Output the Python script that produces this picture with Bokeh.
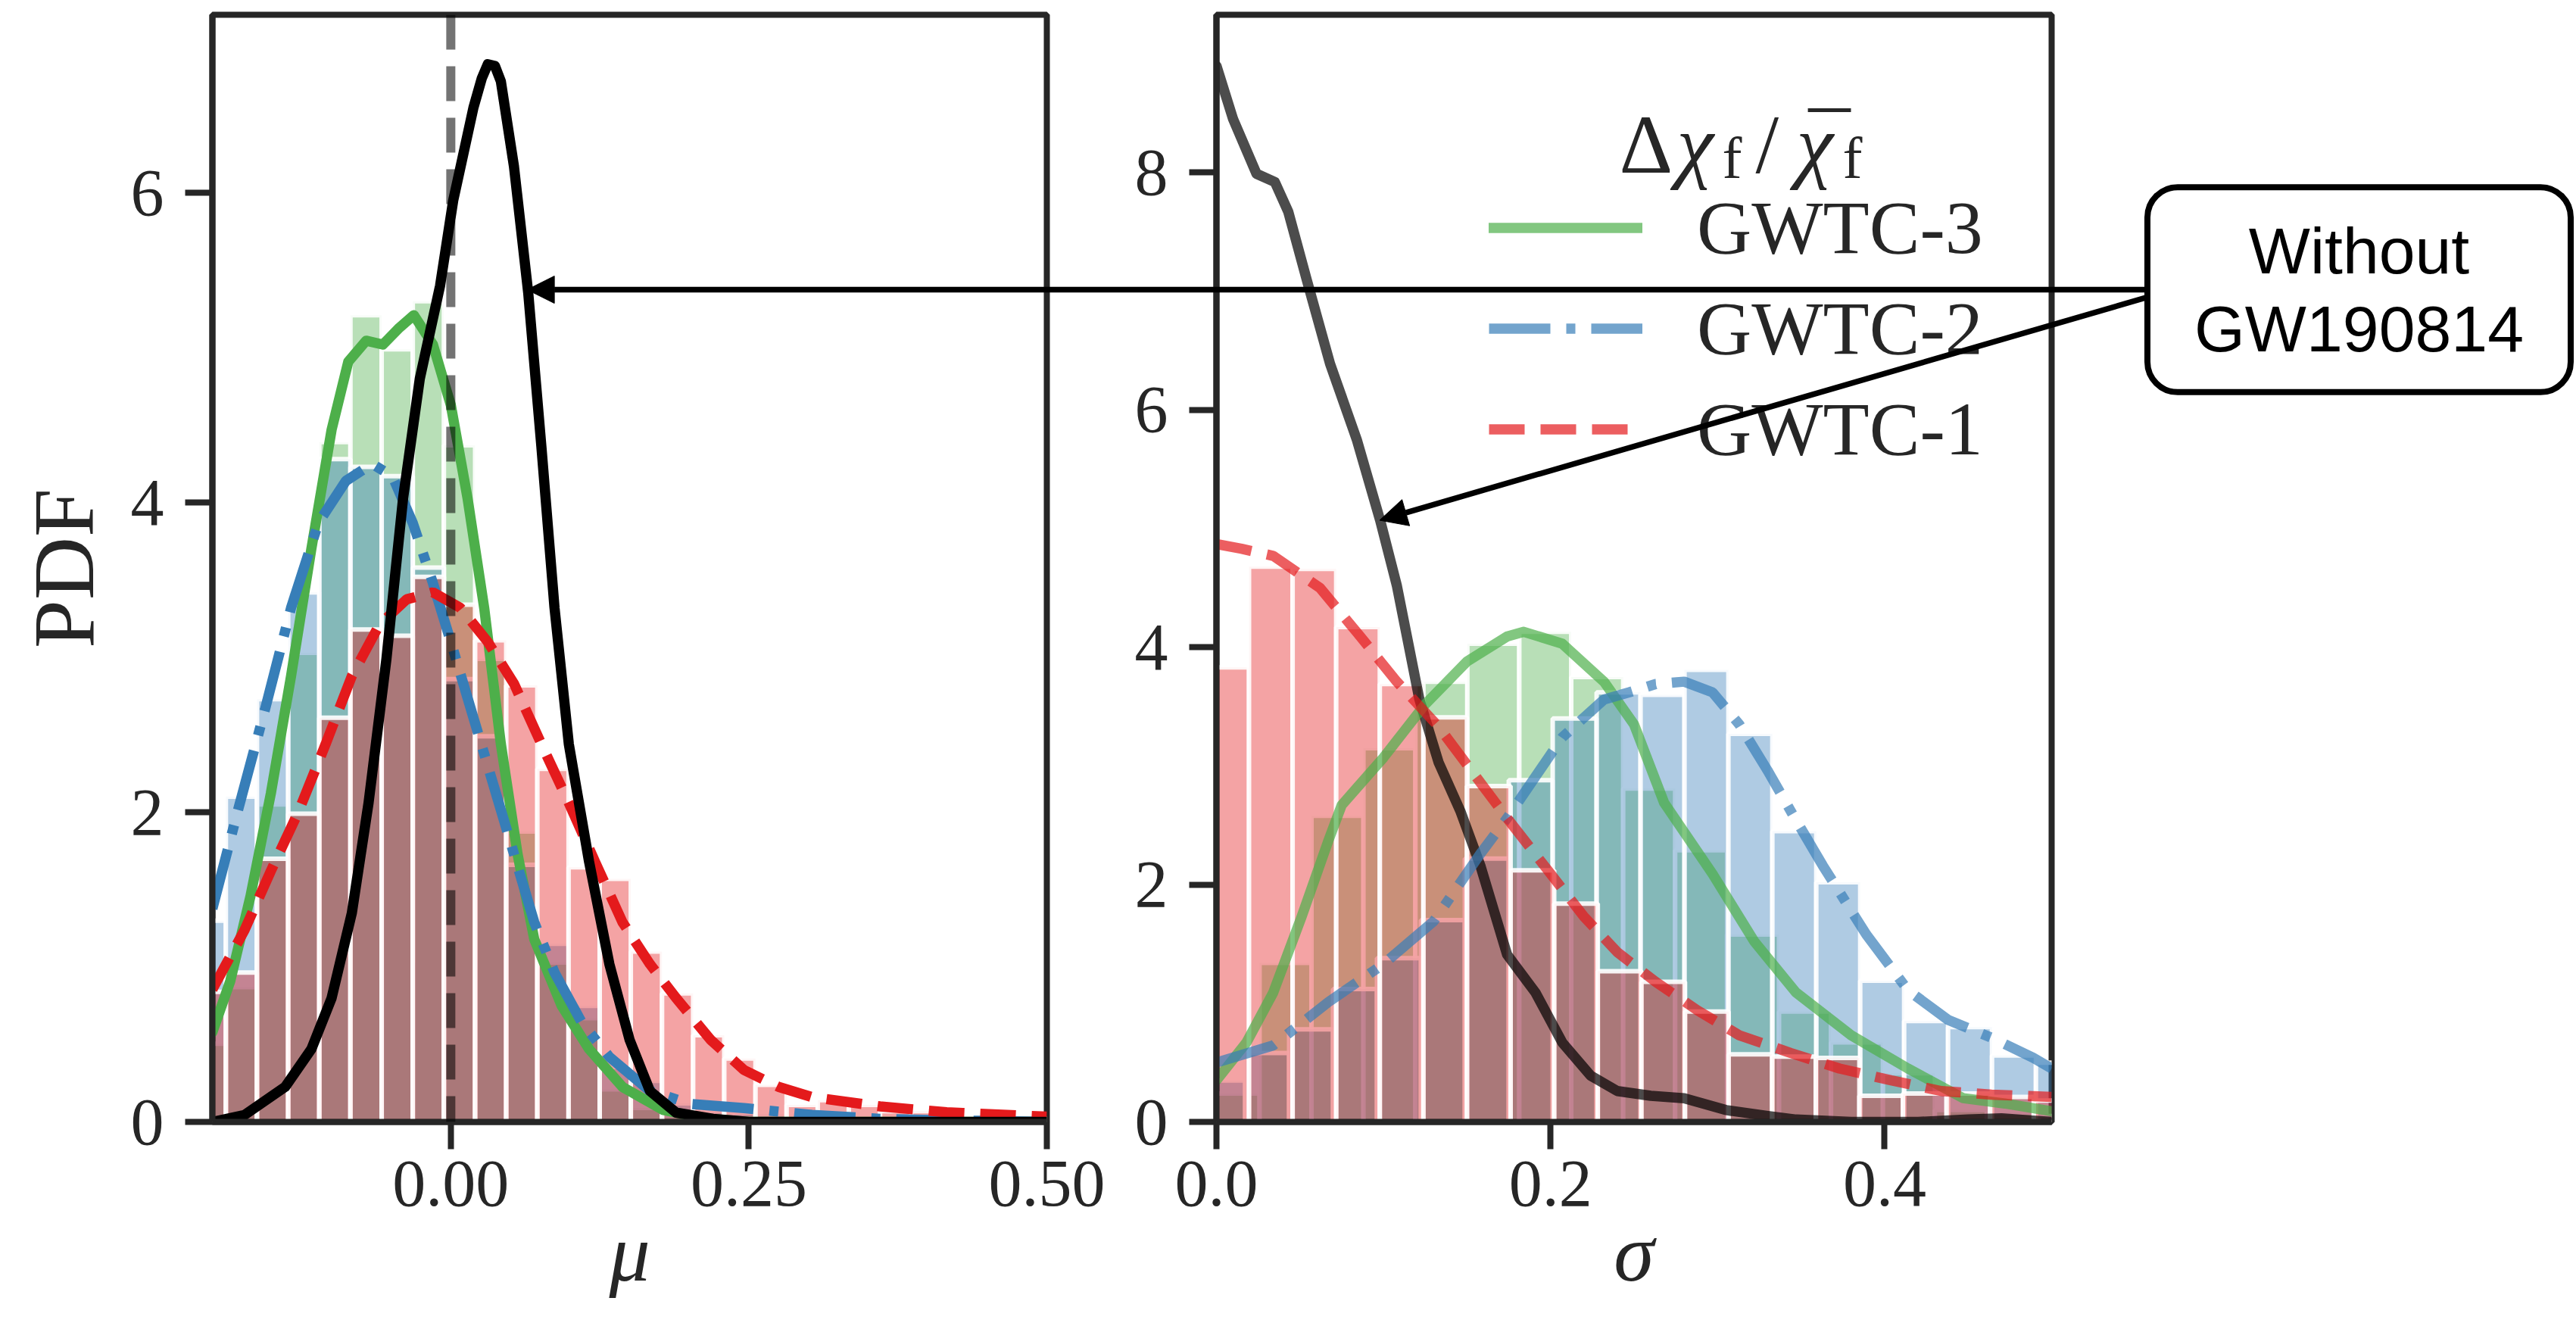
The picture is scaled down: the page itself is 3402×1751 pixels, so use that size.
from bokeh.plotting import figure
from bokeh.layouts import row, column
from bokeh.models import (Range1d, FixedTicker, NumeralTickFormatter, Span, Label,
                          Arrow, NormalHead, Legend, LegendItem)
from bokeh.embed import file_html
from bokeh.resources import INLINE

# ====================== DATA ======================
series_labels = ["GWTC-3", "GWTC-2", "GWTC-1"]
mu_ticks = [0.0, 0.25, 0.5]
sigma_ticks = [0.0, 0.2, 0.4]
pdf_ticks_left = [0, 2, 4, 6]
pdf_ticks_right = [0, 2, 4, 6, 8]

# ---- left panel: mu ----
mu_bin_edges = [-0.2148, -0.1887, -0.1626, -0.1364, -0.1103, -0.0842, -0.0580, -0.0319,
                -0.0058, 0.0204, 0.0465, 0.0726, 0.0988, 0.1249, 0.1510, 0.1772, 0.2033,
                0.2294, 0.2556, 0.2817, 0.3078, 0.3339, 0.3601, 0.3862, 0.4123, 0.4385,
                0.4646, 0.4907, 0.5169]
mu_hist_gwtc3 = [0.505, 0.87, 2.05, 3.03, 4.39, 5.21, 4.99, 5.30, 4.37, 2.99, 1.875, 1.03, 0.67,
                 0.21, 0.09, 0.04, 0.02, 0.01, 0.0, 0.0, 0.0, 0.0, 0.0, 0.0, 0.0, 0.0, 0.0, 0.0]
mu_hist_gwtc2 = [1.30, 2.10, 2.73, 3.42, 4.28, 4.23, 4.17, 3.58, 2.86, 2.49, 1.66, 1.15, 0.75,
                 0.355, 0.265, 0.12, 0.07, 0.06, 0.05, 0.03, 0.03, 0.02, 0.02, 0.01, 0.01, 0.0, 0.0, 0.0]
mu_hist_gwtc1 = [0.84, 0.965, 1.70, 1.99, 2.61, 3.18, 3.14, 3.52, 3.34, 3.11, 2.82, 2.28, 1.645,
                 1.57, 1.10, 0.83, 0.56, 0.41, 0.24, 0.11, 0.14, 0.11, 0.07, 0.07, 0.04, 0.02, 0.03, 0.02]

mu_kde3_x = [-0.2, -0.185, -0.168, -0.151, -0.134, -0.117, -0.100, -0.086, -0.071, -0.057, -0.043,
             -0.031, -0.015, 0.0, 0.014, 0.028, 0.042, 0.056, 0.070, 0.093, 0.116, 0.144, 0.178,
             0.212, 0.25, 0.5]
mu_kde3_y = [0.58, 0.91, 1.46, 2.12, 2.88, 3.70, 4.47, 4.91, 5.045, 5.02, 5.13, 5.21, 5.02, 4.63,
             4.03, 3.32, 2.44, 1.73, 1.18, 0.75, 0.47, 0.226, 0.078, 0.023, 0.0, 0.0]
mu_kde2_x = [-0.2, -0.179, -0.156, -0.134, -0.111, -0.088, -0.066, -0.049, -0.032, -0.015, 0.002,
             0.019, 0.036, 0.053, 0.070, 0.087, 0.110, 0.133, 0.167, 0.201, 0.246, 0.303, 0.36,
             0.42, 0.5]
mu_kde2_y = [1.376, 2.0, 2.66, 3.32, 3.87, 4.14, 4.25, 4.17, 3.87, 3.48, 3.05, 2.61, 2.17, 1.73,
             1.29, 0.965, 0.64, 0.42, 0.20, 0.116, 0.089, 0.045, 0.02, 0.01, 0.0]
mu_kde1_x = [-0.2, -0.173, -0.151, -0.128, -0.105, -0.083, -0.060, -0.037, -0.015, 0.008, 0.031,
             0.053, 0.076, 0.099, 0.121, 0.144, 0.167, 0.189, 0.218, 0.246, 0.275, 0.303, 0.36,
             0.416, 0.5]
mu_kde1_y = [0.856, 1.24, 1.62, 2.0, 2.44, 2.88, 3.21, 3.375, 3.42, 3.32, 3.10, 2.83, 2.44, 2.06,
             1.68, 1.29, 1.02, 0.80, 0.53, 0.335, 0.226, 0.16, 0.10, 0.062, 0.034]
mu_kde_wo_x = [-0.2, -0.173, -0.139, -0.117, -0.100, -0.083, -0.069, -0.054, -0.040, -0.026,
               -0.009, 0.002, 0.019, 0.026, 0.031, 0.037, 0.042, 0.053, 0.065, 0.076, 0.087,
               0.099, 0.116, 0.133, 0.150, 0.167, 0.189, 0.22, 0.25, 0.5]
mu_kde_wo_y = [0.0, 0.045, 0.226, 0.47, 0.80, 1.35, 2.06, 2.99, 4.03, 4.80, 5.40, 5.95, 6.55,
               6.74, 6.83, 6.82, 6.72, 6.17, 5.35, 4.36, 3.32, 2.44, 1.68, 1.02, 0.53, 0.20,
               0.06, 0.02, 0.0, 0.0]
mu_reference = 0.0

# ---- right panel: sigma ----
sig_edges_gwtc3 = [-0.0053, 0.0258, 0.0569, 0.0880, 0.1191, 0.1502, 0.1813, 0.2124, 0.2435,
                   0.2746, 0.3057, 0.3368, 0.3679, 0.3990, 0.4301, 0.4612, 0.4923, 0.5234]
sig_hist_gwtc3 = [0.24, 1.34, 2.58, 3.15, 3.71, 4.03, 4.13, 3.75, 2.81, 2.29, 1.58, 0.93, 0.67,
                  0.41, 0.10, 0.08, 0.05]
sig_edges_gwtc2 = [-0.0091, 0.0172, 0.0435, 0.0698, 0.0961, 0.1224, 0.1487, 0.1750, 0.2013,
                   0.2276, 0.2539, 0.2802, 0.3065, 0.3328, 0.3591, 0.3854, 0.4117, 0.4380,
                   0.4643, 0.4906, 0.5169]
sig_hist_gwtc2 = [0.35, 0.58, 0.78, 1.12, 1.38, 1.70, 2.22, 2.88, 3.40, 3.62, 3.60, 3.81, 3.27,
                  2.45, 2.02, 1.19, 0.85, 0.80, 0.56, 0.50]
sig_edges_gwtc1 = [-0.0066, 0.0195, 0.0456, 0.0717, 0.0978, 0.1239, 0.1500, 0.1761, 0.2022,
                   0.2283, 0.2544, 0.2805, 0.3066, 0.3327, 0.3588, 0.3849, 0.4110, 0.4371,
                   0.4632, 0.4893, 0.5154]
sig_hist_gwtc1 = [3.83, 4.68, 4.66, 4.17, 3.69, 3.41, 2.83, 2.12, 1.84, 1.27, 1.18, 0.93, 0.57,
                  0.55, 0.54, 0.22, 0.24, 0.24, 0.21, 0.18]

sig_kde3_x = [0.0, 0.018, 0.034, 0.051, 0.067, 0.075, 0.100, 0.125, 0.150, 0.174, 0.184, 0.207,
              0.232, 0.250, 0.268, 0.297, 0.322, 0.347, 0.380, 0.414, 0.447, 0.472, 0.5]
sig_kde3_y = [0.35, 0.67, 1.09, 1.73, 2.37, 2.67, 3.07, 3.52, 3.88, 4.09, 4.13, 4.03, 3.71, 3.35,
              2.69, 2.09, 1.52, 1.09, 0.73, 0.45, 0.20, 0.155, 0.09]
sig_kde2_x = [0.0, 0.034, 0.067, 0.100, 0.130, 0.158, 0.174, 0.207, 0.232, 0.247, 0.263, 0.280,
              0.297, 0.313, 0.330, 0.345, 0.363, 0.389, 0.414, 0.438, 0.464, 0.489, 0.5]
sig_kde2_y = [0.50, 0.645, 1.01, 1.33, 1.69, 2.26, 2.56, 3.24, 3.56, 3.62, 3.69, 3.71, 3.62, 3.35,
              2.96, 2.59, 2.16, 1.58, 1.11, 0.86, 0.71, 0.54, 0.45]
sig_kde1_x = [0.0, 0.015, 0.034, 0.062, 0.085, 0.108, 0.133, 0.158, 0.174, 0.199, 0.220, 0.240,
              0.263, 0.288, 0.313, 0.344, 0.373, 0.404, 0.434, 0.464, 0.5]
sig_kde1_y = [4.87, 4.83, 4.77, 4.50, 4.11, 3.71, 3.33, 2.86, 2.56, 2.11, 1.73, 1.43, 1.18, 0.94,
              0.73, 0.58, 0.45, 0.35, 0.26, 0.23, 0.21]
sig_kde_wo_x = [0.0, 0.01, 0.024, 0.035, 0.043, 0.054, 0.068, 0.084, 0.098, 0.108, 0.1215, 0.133,
                0.146, 0.158, 0.174, 0.191, 0.207, 0.224, 0.240, 0.26, 0.28, 0.305, 0.33, 0.347,
                0.38, 0.42, 0.45, 0.47, 0.49, 0.5]
sig_kde_wo_y = [8.9, 8.45, 7.99, 7.92, 7.67, 7.1, 6.39, 5.75, 5.07, 4.52, 3.56, 3.03, 2.62, 2.16,
                1.41, 1.09, 0.67, 0.39, 0.26, 0.22, 0.20, 0.10, 0.05, 0.02, 0.0, 0.0, 0.02, 0.03,
                0.01, 0.0]

# annotation: arrow targets (data units of each panel) and box text
arrow_target_mu = (0.064, 5.39)
arrow_target_sigma = (0.0977, 5.07)
box_text = "Without\nGW190814"

# ====================== STYLE / LAYOUT ======================
SERIF = "Liberation Serif"
SANS = "Liberation Sans"
INK = "#262626"
C3, C2, C1 = "#4daf4a", "#377eb8", "#e41a1c"
LW = 13.5
DASH = "47 21"
DASHDOT = "81 21 12 21"
FRAME_LW = 8

W_LEFT, W_RIGHT, H = 1480, 1922, 1751
W_PAGE = W_LEFT + W_RIGHT
L_BORDER_L, L_BORDER_R = 280, 98
R_BORDER_L, R_BORDER_R = 126, 693
B_TOP, B_BOTTOM = 19, 270
FRAME_BOTTOM = H - B_BOTTOM
FRAME_H = H - B_TOP - B_BOTTOM
L_FRAME_LEFT, L_FRAME_W = L_BORDER_L, W_LEFT - L_BORDER_L - L_BORDER_R
R_FRAME_LEFT, R_FRAME_W = W_LEFT + R_BORDER_L, W_RIGHT - R_BORDER_L - R_BORDER_R
MU_RANGE, PDF_L_RANGE = (-0.2, 0.5), (0.0, 7.15)
SIG_RANGE, PDF_R_RANGE = (0.0, 0.5), (0.0, 9.33)


def style_axes(p, xfmt, xticks, yticks, xlabel, ylabel=None):
    p.outline_line_color = INK
    p.outline_line_width = FRAME_LW
    p.outline_line_alpha = 1
    p.xgrid.visible = False
    p.ygrid.visible = False
    p.background_fill_color = "white"
    p.border_fill_color = "white"
    p.xaxis.ticker = FixedTicker(ticks=xticks)
    p.yaxis.ticker = FixedTicker(ticks=yticks)
    p.xaxis.formatter = NumeralTickFormatter(format=xfmt)
    p.yaxis.formatter = NumeralTickFormatter(format="0")
    for ax in list(p.xaxis) + list(p.yaxis):
        ax.axis_line_color = INK
        ax.axis_line_width = FRAME_LW
        ax.major_tick_out = 36
        ax.major_tick_in = 0
        ax.major_tick_line_width = FRAME_LW
        ax.major_tick_line_color = INK
        ax.minor_tick_line_color = None
        ax.major_label_text_font = SERIF
        ax.major_label_text_font_size = "88px"
        ax.major_label_text_color = INK
        ax.axis_label_text_font = SERIF
        ax.axis_label_text_color = INK
    for ax in p.xaxis:
        ax.major_label_standoff = 16
        ax.axis_label = xlabel
        ax.axis_label_text_font_size = "108px"
        ax.axis_label_text_font_style = "italic"
        ax.axis_label_standoff = 0
    for ax in p.yaxis:
        ax.major_label_standoff = 28
        if ylabel:
            ax.axis_label = ylabel
            ax.axis_label_text_font_size = "115px"
            ax.axis_label_text_font_style = "normal"
            ax.axis_label_standoff = 22


def draw_hist(p, edges, heights, color):
    p.quad(left=edges[:-1], right=edges[1:], bottom=0, top=heights,
           fill_color=color, fill_alpha=0.4, line_color="white", line_alpha=0.9, line_width=6)


# ---------------- left panel ----------------
pL = figure(width=W_LEFT, height=H, x_range=Range1d(*MU_RANGE), y_range=Range1d(*PDF_L_RANGE),
            output_backend="svg", toolbar_location=None, title=None,
            min_border_left=L_BORDER_L, min_border_right=L_BORDER_R,
            min_border_top=B_TOP, min_border_bottom=B_BOTTOM)
style_axes(pL, "0.00", mu_ticks, pdf_ticks_left, "μ", "PDF")

draw_hist(pL, mu_bin_edges, mu_hist_gwtc3, C3)
draw_hist(pL, mu_bin_edges, mu_hist_gwtc2, C2)
draw_hist(pL, mu_bin_edges, mu_hist_gwtc1, C1)
pL.line(mu_kde3_x, mu_kde3_y, line_color=C3, line_width=LW, line_cap="round", line_join="round")
pL.line(mu_kde2_x, mu_kde2_y, line_color=C2, line_width=LW, line_dash=DASHDOT)
pL.line(mu_kde1_x, mu_kde1_y, line_color=C1, line_width=LW, line_dash=DASH)
pL.line(mu_kde_wo_x, mu_kde_wo_y, line_color="black", line_width=LW, line_cap="round", line_join="round")
pL.add_layout(Span(location=mu_reference, dimension="height", line_color="black", line_alpha=0.55,
                   line_width=12, line_dash="46 22"))

# ---------------- right panel ----------------
pR = figure(width=W_RIGHT, height=H, x_range=Range1d(*SIG_RANGE), y_range=Range1d(*PDF_R_RANGE),
            output_backend="svg", toolbar_location=None, title=None,
            min_border_left=R_BORDER_L, min_border_right=R_BORDER_R,
            min_border_top=B_TOP, min_border_bottom=B_BOTTOM)
style_axes(pR, "0.0", sigma_ticks, pdf_ticks_right, "σ")

draw_hist(pR, sig_edges_gwtc3, sig_hist_gwtc3, C3)
draw_hist(pR, sig_edges_gwtc2, sig_hist_gwtc2, C2)
draw_hist(pR, sig_edges_gwtc1, sig_hist_gwtc1, C1)
pR.line(sig_kde_wo_x, sig_kde_wo_y, line_color="black", line_alpha=0.7, line_width=LW,
        line_cap="round", line_join="round")
r3 = pR.line(sig_kde3_x, sig_kde3_y, line_color=C3, line_alpha=0.7, line_width=LW,
             line_cap="round", line_join="round")
r2 = pR.line(sig_kde2_x, sig_kde2_y, line_color=C2, line_alpha=0.7, line_width=LW, line_dash=DASHDOT)
r1 = pR.line(sig_kde1_x, sig_kde1_y, line_color=C1, line_alpha=0.7, line_width=LW, line_dash=DASH)


def fx(page_x):
    return page_x - R_FRAME_LEFT


def fy(page_y):
    return FRAME_BOTTOM - page_y


legend = Legend(items=[LegendItem(label=series_labels[0], renderers=[r3]),
                       LegendItem(label=series_labels[1], renderers=[r2]),
                       LegendItem(label=series_labels[2], renderers=[r1])],
                location=(fx(1966), fy(633)), orientation="vertical",
                glyph_width=203, glyph_height=133, label_height=133, label_standoff=72,
                spacing=0, padding=0, margin=0, border_line_alpha=0, background_fill_alpha=0,
                label_text_font=SERIF, label_text_font_size="100px", label_text_color=INK)
pR.add_layout(legend)

# legend title  Δχ_f / χ̄_f  built from pieces
title_pieces = [("Δ", 2138, 190, "110px", "normal"),
                ("χ", 2214, 190, "110px", "italic"),
                ("f", 2274, 208, "78px", "normal"),
                ("/", 2318, 190, "110px", "normal"),
                ("\u00af", 2388, 188, "110px", "normal"),
                ("χ", 2372, 190, "110px", "italic"),
                ("f", 2433, 208, "78px", "normal")]
for txt, px, py, fs, st in title_pieces:
    pR.add_layout(Label(x=fx(px), y=fy(py), x_units="screen", y_units="screen", text=txt,
                        text_font=SERIF, text_font_size=fs, text_font_style=st, text_color=INK,
                        text_align="left", text_baseline="alphabetic"))

# ---------------- transparent overlay for the annotation ----------------
pO = figure(width=W_PAGE, height=H, x_range=Range1d(0, W_PAGE), y_range=Range1d(H, 0),
            output_backend="svg", toolbar_location=None, title=None,
            x_axis_type=None, y_axis_type=None,
            min_border_left=0, min_border_right=0, min_border_top=0, min_border_bottom=0,
            margin=(-H, 0, 0, 0))
pO.outline_line_color = None
pO.background_fill_alpha = 0
pO.border_fill_alpha = 0
pO.xgrid.visible = False
pO.ygrid.visible = False


def page_from_mu(mu, v):
    return (L_FRAME_LEFT + (mu - MU_RANGE[0]) / (MU_RANGE[1] - MU_RANGE[0]) * L_FRAME_W,
            FRAME_BOTTOM - (v - PDF_L_RANGE[0]) / (PDF_L_RANGE[1] - PDF_L_RANGE[0]) * FRAME_H)


def page_from_sigma(s, v):
    return (R_FRAME_LEFT + (s - SIG_RANGE[0]) / (SIG_RANGE[1] - SIG_RANGE[0]) * R_FRAME_W,
            FRAME_BOTTOM - (v - PDF_R_RANGE[0]) / (PDF_R_RANGE[1] - PDF_R_RANGE[0]) * FRAME_H)


BOX_CX, BOX_CY = 3115, 382
hx1, hy1 = page_from_mu(*arrow_target_mu)
hx2, hy2 = page_from_sigma(*arrow_target_sigma)
head = dict(size=36, fill_color="black", line_color="black", line_width=1)
pO.add_layout(Arrow(end=NormalHead(**head), x_start=2950, y_start=BOX_CY, x_end=hx1, y_end=BOX_CY,
                    line_color="black", line_width=7.5))
tail_x = 2950
tail_y = 393 + (hy2 - 393) / (hx2 - 2832) * (tail_x - 2832)
pO.add_layout(Arrow(end=NormalHead(**head), x_start=tail_x, y_start=tail_y, x_end=hx2, y_end=hy2,
                    line_color="black", line_width=7.5))
pO.add_layout(Label(x=BOX_CX, y=BOX_CY, text=box_text,
                    text_font=SANS, text_font_size="86px", text_color="black",
                    text_align="center", text_baseline="middle", text_line_height=1.07,
                    background_fill_color="white", background_fill_alpha=1,
                    border_line_color="black", border_line_width=8, border_radius=40,
                    padding=dict(left=62, right=62, top=36, bottom=36)))

layout = column(row(pL, pR, spacing=0), pO, spacing=0)
open("out.html", "w").write(file_html(layout, INLINE))
